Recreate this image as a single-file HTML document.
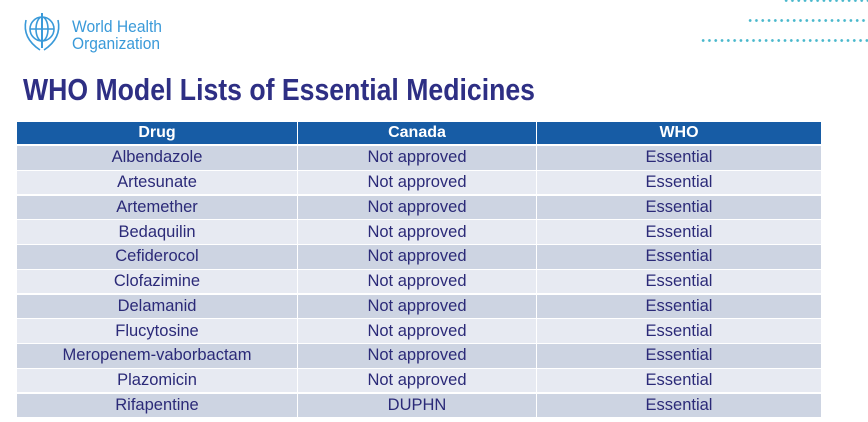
<!DOCTYPE html>
<html><head><meta charset="utf-8"><style>
body{margin:0;width:868px;height:422px;background:#fff;position:relative;overflow:hidden;font-family:"Liberation Sans",sans-serif}
.dots{position:absolute;height:3px;background:radial-gradient(circle,#4ab8cc 1.2px,transparent 1.6px);background-size:6.3px 3px}
#tbl{position:absolute;left:17px;top:122px;width:804px}
.row{position:absolute;left:0;width:804px;display:flex}
.cell{box-sizing:border-box;text-align:center;color:#2b2a78;font-size:16.5px;display:flex;align-items:center;justify-content:center;border-right:1px solid #fff}
.hdr .cell{background:#175ca5;color:#fff;font-weight:bold;font-size:16px}
.c1{width:281px}.c2{width:239px}.c3{width:284px;border-right:none!important}
</style></head><body>
<div class="dots" style="left:783px;top:-1px;width:85px"></div>
<div class="dots" style="left:747px;top:19px;width:121px"></div>
<div class="dots" style="left:700px;top:39px;width:168px"></div>
<svg style="position:absolute;left:18px;top:10px" width="150" height="48">
 <g fill="none" stroke="#3a9ad9" stroke-width="1.6">
  <circle cx="24" cy="19" r="12"/><ellipse cx="24" cy="19" rx="6" ry="12"/><line x1="12" y1="19" x2="36" y2="19"/>
  <path d="M8 10 Q4 28 22 40 M40 10 Q44 28 26 40"/><line x1="24" y1="3" x2="24" y2="38" stroke-width="2"/>
 </g>
 <text x="54" y="22" font-size="17" fill="#3a9ad9" textLength="90" lengthAdjust="spacingAndGlyphs">World Health</text>
 <text x="54" y="39" font-size="17" fill="#3a9ad9" textLength="88" lengthAdjust="spacingAndGlyphs">Organization</text>
</svg>
<svg style="position:absolute;left:0;top:70px" width="600" height="40">
 <text x="23" y="30" font-size="31" font-weight="bold" fill="#2e2f84" textLength="512" lengthAdjust="spacingAndGlyphs">WHO Model Lists of Essential Medicines</text>
</svg>
<div id="tbl"></div>
<script>
const drugs=["Albendazole","Artesunate","Artemether","Bedaquilin","Cefiderocol","Clofazimine","Delamanid","Flucytosine","Meropenem-vaborbactam","Plazomicin","Rifapentine"];
const canada=["Not approved","Not approved","Not approved","Not approved","Not approved","Not approved","Not approved","Not approved","Not approved","Not approved","DUPHN"];
const who=["Essential","Essential","Essential","Essential","Essential","Essential","Essential","Essential","Essential","Essential","Essential"];
const t=document.getElementById('tbl');
function mk(vals,top,h,bg,cls,name){
 const r=document.createElement('div');r.className='row '+cls;r.style.top=top+'px';r.style.height=h+'px';
 
 
 vals.forEach((v,i)=>{const c=document.createElement('div');c.className='cell c'+(i+1);c.textContent=v;if(bg)c.style.background=bg;
 
 
 r.appendChild(c);});
 t.appendChild(r);
}
mk(["Drug","Canada","WHO"],0,22,null,'hdr','header-row');
drugs.forEach((d,i)=>{mk([d,canada[i],who[i]],24+i*24.75,23.5,i%2?'#e7eaf2':'#cdd4e2','','row-'+d.toLowerCase());});
</script>
</body></html>
